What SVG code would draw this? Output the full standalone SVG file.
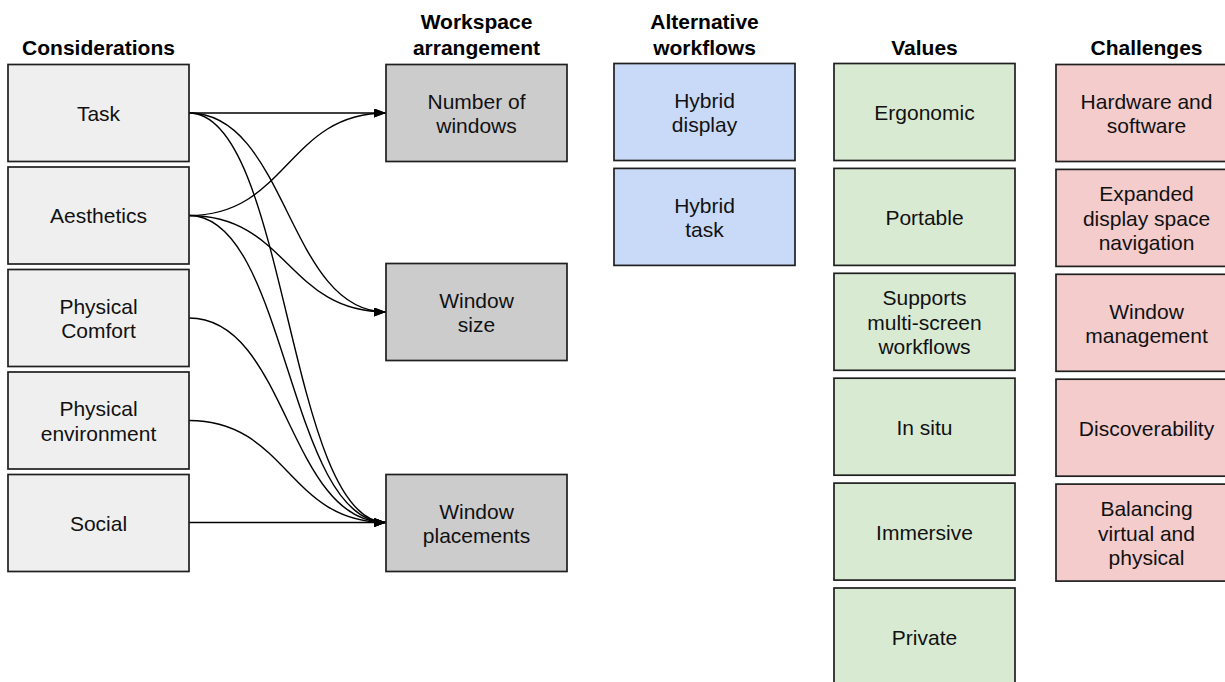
<svg xmlns="http://www.w3.org/2000/svg" width="1225" height="682" viewBox="0 0 1225 682">
<style>
text{font-family:"Liberation Sans",Arial,sans-serif;font-size:21px;fill:#111;text-anchor:middle}
.h{font-weight:bold;fill:#000}
.c,.w,.b,.g,.r{stroke:#1f1f1f;stroke-width:1.7}
.c{fill:#efefef}.w{fill:#cccccc}.b{fill:#c9daf8}.g{fill:#d9ead3}.r{fill:#f4cccc}
.e{fill:none;stroke:#000;stroke-width:1.4;marker-end:url(#arr)}
</style>
<defs>
<marker id="arr" viewBox="0 0 12 9" refX="12" refY="4.5" markerWidth="12" markerHeight="9" orient="auto" markerUnits="userSpaceOnUse"><path d="M0,0 L12,4.5 L0,9 z" fill="#000"/></marker>
</defs>
<rect width="1225" height="682" fill="#fff"/>
<g id="headers">
<text class="h" x="98.5" y="55">Considerations</text>
<text class="h" x="476.5" y="29">Workspace</text>
<text class="h" x="476.5" y="55">arrangement</text>
<text class="h" x="704.5" y="29">Alternative</text>
<text class="h" x="704.5" y="55">workflows</text>
<text class="h" x="924.5" y="55">Values</text>
<text class="h" x="1146.5" y="55">Challenges</text>
</g>
<g id="connectors">
<path class="e" d="M189,113 L386,113"/>
<path class="e" d="M189,215.5 C287.5,215.5 287.5,113 386,113"/>
<path class="e" d="M189,113 C287.5,113 287.5,312 386,312"/>
<path class="e" d="M189,215.5 C287.5,215.5 287.5,312 386,312"/>
<path class="e" d="M189,113 C287.5,113 287.5,522.5 386,522.5"/>
<path class="e" d="M189,215.5 C287.5,215.5 287.5,522.5 386,522.5"/>
<path class="e" d="M189,318 C287.5,318 287.5,522.5 386,522.5"/>
<path class="e" d="M189,420.5 C287.5,420.5 287.5,522.5 386,522.5"/>
<path class="e" d="M189,522.5 L386,522.5"/>
</g>
<g id="task"><rect class="c" x="8" y="64.5" width="181" height="97"/><text x="98.5" y="120.5">Task</text></g>
<g id="aesthetics"><rect class="c" x="8" y="167" width="181" height="97"/><text x="98.5" y="223">Aesthetics</text></g>
<g id="physical-comfort"><rect class="c" x="8" y="269.5" width="181" height="97"/><text x="98.5" y="313.75">Physical</text><text x="98.5" y="338.25">Comfort</text></g>
<g id="physical-environment"><rect class="c" x="8" y="372" width="181" height="97"/><text x="98.5" y="416.25">Physical</text><text x="98.5" y="440.75">environment</text></g>
<g id="social"><rect class="c" x="8" y="474.5" width="181" height="97"/><text x="98.5" y="530.5">Social</text></g>
<g id="number-of-windows"><rect class="w" x="386" y="64.5" width="181" height="97"/><text x="476.5" y="108.75">Number of</text><text x="476.5" y="133.25">windows</text></g>
<g id="window-size"><rect class="w" x="386" y="263.5" width="181" height="97"/><text x="476.5" y="307.75">Window</text><text x="476.5" y="332.25">size</text></g>
<g id="window-placements"><rect class="w" x="386" y="474.5" width="181" height="97"/><text x="476.5" y="518.75">Window</text><text x="476.5" y="543.25">placements</text></g>
<g id="hybrid-display"><rect class="b" x="614" y="63.5" width="181" height="97"/><text x="704.5" y="107.75">Hybrid</text><text x="704.5" y="132.25">display</text></g>
<g id="hybrid-task"><rect class="b" x="614" y="168.4" width="181" height="97"/><text x="704.5" y="212.65">Hybrid</text><text x="704.5" y="237.15">task</text></g>
<g id="ergonomic"><rect class="g" x="834" y="63.5" width="181" height="97"/><text x="924.5" y="120">Ergonomic</text></g>
<g id="portable"><rect class="g" x="834" y="168.4" width="181" height="97"/><text x="924.5" y="224.9">Portable</text></g>
<g id="supports"><rect class="g" x="834" y="273.3" width="181" height="97"/><text x="924.5" y="305.3">Supports</text><text x="924.5" y="329.8">multi-screen</text><text x="924.5" y="354.3">workflows</text></g>
<g id="in-situ"><rect class="g" x="834" y="378.2" width="181" height="97"/><text x="924.5" y="434.7">In situ</text></g>
<g id="immersive"><rect class="g" x="834" y="483.1" width="181" height="97"/><text x="924.5" y="539.6">Immersive</text></g>
<g id="private"><rect class="g" x="834" y="588" width="181" height="97"/><text x="924.5" y="644.5">Private</text></g>
<g id="hardware"><rect class="r" x="1056" y="64.5" width="181" height="97"/><text x="1146.5" y="108.75">Hardware and</text><text x="1146.5" y="133.25">software</text></g>
<g id="expanded"><rect class="r" x="1056" y="169.4" width="181" height="97"/><text x="1146.5" y="201.4">Expanded</text><text x="1146.5" y="225.9">display space</text><text x="1146.5" y="250.4">navigation</text></g>
<g id="window-management"><rect class="r" x="1056" y="274.3" width="181" height="97"/><text x="1146.5" y="318.55">Window</text><text x="1146.5" y="343.05">management</text></g>
<g id="discoverability"><rect class="r" x="1056" y="379.2" width="181" height="97"/><text x="1146.5" y="435.7">Discoverability</text></g>
<g id="balancing"><rect class="r" x="1056" y="484.1" width="181" height="97"/><text x="1146.5" y="516.1">Balancing</text><text x="1146.5" y="540.6">virtual and</text><text x="1146.5" y="565.1">physical</text></g>
</svg>
